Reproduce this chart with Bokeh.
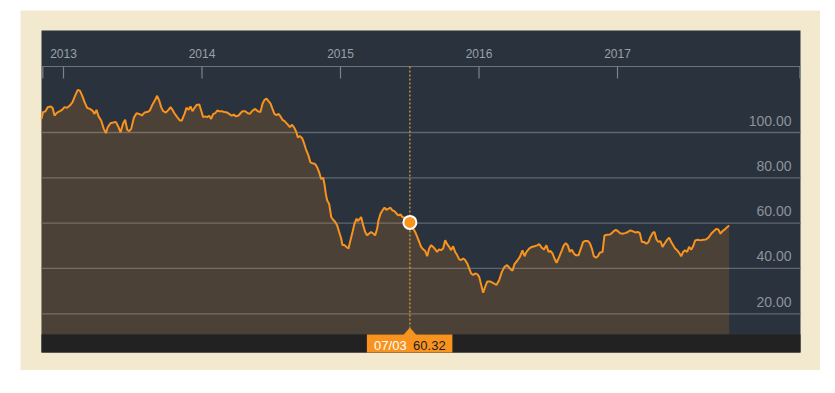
from bokeh.plotting import figure
from bokeh.models import Range1d
from bokeh.embed import file_html
from bokeh.resources import INLINE
from bokeh.core.properties import value

# ---------------- data (decimal year, Brent price) ----------------
dates = [
    2012.841, 2012.853, 2012.870, 2012.887, 2012.906, 2012.921, 2012.935, 2012.954, 2012.974, 2012.990,
    2013.007, 2013.026, 2013.046, 2013.065, 2013.084, 2013.103, 2013.118, 2013.135, 2013.152, 2013.171,
    2013.190, 2013.209, 2013.224, 2013.238, 2013.253, 2013.272, 2013.291, 2013.306, 2013.320, 2013.339,
    2013.359, 2013.378, 2013.397, 2013.412, 2013.431, 2013.445, 2013.460, 2013.474, 2013.489, 2013.508,
    2013.527, 2013.546, 2013.566, 2013.585, 2013.604, 2013.623, 2013.643, 2013.662, 2013.676, 2013.691,
    2013.705, 2013.720, 2013.739, 2013.758, 2013.773, 2013.787, 2013.801, 2013.821, 2013.840, 2013.854,
    2013.874, 2013.888, 2013.903, 2013.917, 2013.931, 2013.946, 2013.960, 2013.980, 2013.994, 2014.008,
    2014.023, 2014.037, 2014.052, 2014.066, 2014.081, 2014.095, 2014.110, 2014.124, 2014.143, 2014.162,
    2014.182, 2014.196, 2014.215, 2014.230, 2014.244, 2014.264, 2014.278, 2014.292, 2014.312, 2014.331,
    2014.345, 2014.365, 2014.384, 2014.403, 2014.422, 2014.437, 2014.451, 2014.466, 2014.480, 2014.495,
    2014.509, 2014.523, 2014.538, 2014.552, 2014.567, 2014.581, 2014.596, 2014.615, 2014.634, 2014.651,
    2014.668, 2014.682, 2014.692, 2014.706, 2014.723, 2014.735, 2014.750, 2014.769, 2014.783, 2014.798,
    2014.817, 2014.832, 2014.846, 2014.860, 2014.875, 2014.884, 2014.894, 2014.904, 2014.918, 2014.933,
    2014.947, 2014.962, 2014.976, 2014.990, 2015.005, 2015.014, 2015.029, 2015.043, 2015.058, 2015.072,
    2015.087, 2015.101, 2015.116, 2015.125, 2015.140, 2015.149, 2015.164, 2015.178, 2015.193, 2015.207,
    2015.221, 2015.236, 2015.250, 2015.265, 2015.274, 2015.289, 2015.303, 2015.318, 2015.332, 2015.347,
    2015.361, 2015.375, 2015.390, 2015.404, 2015.419, 2015.433, 2015.448, 2015.462, 2015.477, 2015.501,
    2015.515, 2015.525, 2015.539, 2015.554, 2015.568, 2015.582, 2015.597, 2015.611, 2015.626, 2015.640,
    2015.655, 2015.669, 2015.684, 2015.698, 2015.712, 2015.727, 2015.741, 2015.756, 2015.770, 2015.785,
    2015.799, 2015.813, 2015.828, 2015.842, 2015.857, 2015.871, 2015.886, 2015.900, 2015.915, 2015.929,
    2015.943, 2015.958, 2015.972, 2015.987, 2016.001, 2016.016, 2016.030, 2016.045, 2016.059, 2016.083,
    2016.107, 2016.126, 2016.146, 2016.165, 2016.184, 2016.203, 2016.223, 2016.242, 2016.256, 2016.276,
    2016.295, 2016.314, 2016.329, 2016.343, 2016.362, 2016.381, 2016.401, 2016.420, 2016.434, 2016.449,
    2016.468, 2016.487, 2016.502, 2016.516, 2016.531, 2016.545, 2016.560, 2016.579, 2016.598, 2016.612,
    2016.627, 2016.641, 2016.656, 2016.670, 2016.685, 2016.699, 2016.718, 2016.733, 2016.752, 2016.767,
    2016.786, 2016.800, 2016.815, 2016.829, 2016.844, 2016.858, 2016.872, 2016.892, 2016.906, 2016.925,
    2016.945, 2016.959, 2016.974, 2016.988, 2017.002, 2017.017, 2017.036, 2017.055, 2017.075, 2017.094,
    2017.108, 2017.128, 2017.147, 2017.161, 2017.176, 2017.190, 2017.209, 2017.224, 2017.238, 2017.253,
    2017.267, 2017.282, 2017.296, 2017.310, 2017.325, 2017.339, 2017.359, 2017.373, 2017.388, 2017.402,
    2017.416, 2017.431, 2017.445, 2017.460, 2017.474, 2017.489, 2017.503, 2017.517, 2017.532, 2017.546,
    2017.561, 2017.580, 2017.599, 2017.619, 2017.638, 2017.657, 2017.676, 2017.696, 2017.715, 2017.729,
    2017.744, 2017.758, 2017.773, 2017.787, 2017.806,
]
prices = [
    106.0, 109.0, 109.4, 111.2, 111.5, 110.9, 107.5, 108.8, 109.4, 110.0,
    111.2, 110.9, 111.9, 113.4, 116.3, 118.8, 118.5, 116.3, 113.4, 110.9,
    110.4, 109.7, 108.2, 110.0, 107.1, 105.3, 101.6, 99.7, 102.4, 104.1,
    104.4, 104.7, 102.4, 100.1, 104.1, 105.6, 101.2, 100.6, 101.6, 106.5,
    108.5, 108.2, 107.5, 108.8, 109.0, 109.7, 112.4, 114.4, 116.2, 114.1,
    111.2, 109.4, 108.8, 110.0, 111.2, 110.0, 108.5, 106.8, 105.3, 105.3,
    108.2, 110.9, 110.0, 111.5, 109.4, 110.9, 112.1, 112.4, 109.7, 106.8,
    107.1, 106.8, 107.4, 106.0, 108.2, 108.5, 109.7, 109.4, 109.4, 109.0,
    108.8, 108.2, 107.4, 107.9, 107.1, 107.5, 108.5, 109.4, 109.4, 108.5,
    108.2, 109.7, 110.4, 109.4, 109.0, 112.7, 114.4, 114.9, 113.8, 112.7,
    110.4, 108.2, 107.6, 108.2, 107.1, 105.6, 105.0, 103.8, 102.4, 103.4,
    101.9, 100.0, 97.8, 98.5, 97.5, 95.6, 92.7, 89.8, 86.8, 86.4,
    86.1, 84.6, 82.4, 79.5, 80.0, 77.3, 72.9, 70.0, 68.5, 62.7,
    61.5, 60.5, 59.0, 56.1, 53.2, 50.3, 50.3, 49.5, 48.8, 52.5,
    56.1, 59.8, 62.0, 60.9, 62.0, 62.7, 59.0, 56.1, 54.6, 55.4,
    56.1, 55.4, 54.6, 57.6, 61.2, 64.2, 65.6, 66.8, 65.9, 66.4,
    66.8, 65.6, 65.3, 64.2, 63.4, 63.9, 62.7, 62.4, 62.0, 60.32,
    59.5, 57.6, 56.1, 53.9, 51.7, 49.5, 48.4, 47.8, 45.4, 48.8,
    50.3, 49.5, 48.4, 47.3, 48.4, 48.1, 48.8, 52.5, 50.7, 49.5,
    48.1, 49.8, 47.3, 45.9, 44.0, 43.7, 44.4, 43.7, 42.2, 40.0,
    37.8, 37.1, 37.8, 37.5, 36.4, 32.7, 29.3, 32.0, 34.2, 34.2,
    33.4, 32.7, 34.9, 38.5, 40.7, 41.5, 40.0, 39.0, 41.9, 43.4,
    45.1, 48.0, 45.4, 47.3, 48.8, 49.5, 49.8, 50.2, 50.7, 49.5,
    48.3, 50.2, 47.3, 47.7, 46.6, 44.4, 42.5, 45.1, 48.0, 50.2,
    51.2, 50.2, 47.3, 48.3, 46.6, 45.8, 45.8, 48.3, 51.7, 52.1,
    52.1, 51.2, 48.8, 45.4, 44.8, 45.4, 46.9, 47.3, 54.6, 54.9,
    55.0, 55.6, 56.5, 57.1, 56.5, 55.6, 55.3, 55.6, 56.1, 56.8,
    56.5, 55.9, 56.1, 55.6, 51.7, 51.7, 50.9, 51.7, 53.9, 55.6,
    56.1, 52.7, 51.7, 52.1, 49.5, 50.9, 52.7, 53.6, 51.7, 50.2,
    48.8, 48.0, 46.9, 45.4, 47.3, 48.0, 47.3, 49.5, 48.3, 49.8,
    52.4, 52.7, 52.4, 52.7, 52.8, 53.6, 55.3, 56.5, 57.5, 57.1,
    55.3, 56.5, 57.1, 58.0, 59.0,
]
year_ticks = [2013, 2014, 2015, 2016, 2017]
year_labels = ["2013", "2014", "2015", "2016", "2017"]
y_ticks = [20, 40, 60, 80, 100]
y_labels = ["20.00", "40.00", "60.00", "80.00", "100.00"]
hover_date = [2015.501]
hover_price = [60.32]
hover_date_label = ["07/03"]
hover_price_label = ["60.32"]

# ---------------- layout helpers (page pixels -> data) ----------------
PX_2013, PX_PER_YEAR = 63.0, 138.5
PY_100, PX_PER_UNIT = 132.0, 2.266


def dx(px):
    return 2013 + (px - PX_2013) / PX_PER_YEAR


def dy(py):
    return 100 + (PY_100 - py) / PX_PER_UNIT


DARK = "#29323d"
ORANGE = "#f7931e"
BEIGE = "#f3e9cf"
FONT = value("Liberation Sans")

p = figure(
    width=800, height=360,
    x_range=Range1d(dx(20), dx(820)), y_range=Range1d(dy(370), dy(10)),
    x_axis_location=None, y_axis_location=None,
    output_backend="svg", toolbar_location=None,
    min_border=0, margin=(10, 0, 0, 20),
    background_fill_color=BEIGE, border_fill_color=BEIGE,
    outline_line_color=None,
)
p.grid.visible = False

panel_l, panel_r = dx(41), dx(800)

# dark panel
p.quad(left=[panel_l], right=[panel_r], top=[dy(30)], bottom=[dy(352)],
       fill_color=DARK, line_color=None)

# horizontal grid lines
p.segment(x0=[panel_l] * len(y_ticks), x1=[panel_r] * len(y_ticks),
          y0=y_ticks, y1=y_ticks, line_color="#5f6772", line_width=1.3)

# area under the line
base = dy(334)
p.varea(x=dates, y1=[base] * len(dates), y2=prices,
        fill_color=ORANGE, fill_alpha=0.165)

# top time axis line and ticks
p.segment(x0=[panel_l], x1=[panel_r], y0=[dy(66)], y1=[dy(66)],
          line_color="#6d737c", line_width=1.2)
tick_x = year_ticks + [dx(42.3), dx(799.5)]
p.segment(x0=tick_x, x1=tick_x, y0=[dy(66)] * len(tick_x), y1=[dy(78)] * len(tick_x),
          line_color="#7d838b", line_width=1.2)
p.text(x=year_ticks, y=[dy(52.5)] * len(year_ticks), text=year_labels,
       text_font=FONT, text_font_size="12px",
       text_color="#9ba1a8", text_align="center", text_baseline="alphabetic")

# value labels
p.text(x=[dx(791)] * len(y_ticks), y=y_ticks, text=y_labels, y_offset=-12,
       text_font=FONT, text_font_size="14px",
       text_color="#8d939a", text_align="right", text_baseline="alphabetic")

# bottom bar
p.quad(left=[panel_l], right=[panel_r], top=[dy(334)], bottom=[dy(352)],
       fill_color="#222222", line_color=None)

# price line
p.line(dates, prices, line_color=ORANGE, line_width=2)

# crosshair
p.segment(x0=hover_date, x1=hover_date, y0=[dy(66)], y1=[dy(327)],
          line_color="#e3a537", line_width=1.2, line_dash="2 2")

# hover marker
p.scatter(hover_date, hover_price, marker="circle", size=13,
          fill_color=ORANGE, line_color="white", line_width=2)

# tooltip box with pointer
hx = hover_date[0]
ppx = 1.0 / PX_PER_YEAR
p.quad(left=[hx - 43 * ppx], right=[hx + 42.5 * ppx], top=[dy(334)], bottom=[dy(352)],
       fill_color=ORANGE, line_color=None)
p.patch(x=[hx - 6.5 * ppx, hx, hx + 6.5 * ppx], y=[dy(334.5), dy(327), dy(334.5)],
        fill_color=ORANGE, line_color=None)
p.text(x=[hx - 19.5 * ppx], y=[dy(345)], text=hover_date_label,
       text_font=FONT, text_font_size="13px",
       text_color="white", text_align="center", text_baseline="alphabetic")
p.text(x=[hx + 19.5 * ppx], y=[dy(345)], text=hover_price_label,
       text_font=FONT, text_font_size="13px",
       text_color="#1e1e1e", text_align="center", text_baseline="alphabetic")

open("out.html", "w").write(file_html(p, INLINE))
